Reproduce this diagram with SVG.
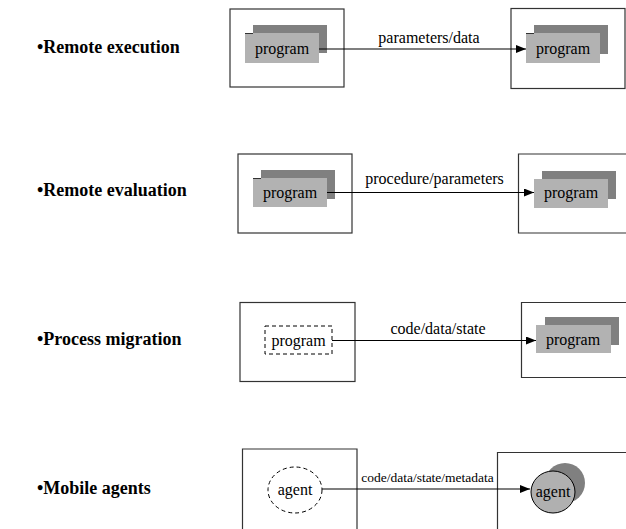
<svg xmlns="http://www.w3.org/2000/svg" width="626" height="529" viewBox="0 0 626 529">
<style>
text{font-family:"Liberation Serif","Times New Roman",serif;fill:#000}
.title{font-weight:bold;font-size:18px}
.lbl{font-size:16px}
.box{fill:#fff;stroke:#333;stroke-width:1.2}
.dark{fill:#808080}
.light{fill:#b2b2b2}
.edge{fill:none;stroke:#000;stroke-width:1.2}
.dash{fill:#fff;stroke:#000;stroke-width:1;stroke-dasharray:4,3}
</style>
<defs>
<marker id="ah" markerWidth="10" markerHeight="8" refX="10" refY="4" orient="auto" markerUnits="userSpaceOnUse">
<path d="M0,0 L10,4 L0,8 Z" fill="#000"/>
</marker>
</defs>
<rect width="626" height="529" fill="#fff"/>
<g id="titles">
<text class="title" x="37" y="53">•Remote execution</text>
<text class="title" x="37" y="196">•Remote evaluation</text>
<text class="title" x="37" y="345">•Process migration</text>
<text class="title" x="37" y="494">•Mobile agents</text>
</g>
<g id="r1-src">
<rect class="box" x="230" y="9" width="114" height="78"/>
<rect class="dark" x="253" y="25" width="74" height="28"/>
<rect class="light" x="245" y="33" width="74" height="30"/>
<line x1="245" y1="33.5" x2="253" y2="33.5" stroke="#333" stroke-width="1"/>
<text class="lbl" x="282" y="54" text-anchor="middle">program</text>
</g>
<g id="r1-dst">
<rect class="box" x="511" y="8.5" width="114" height="80"/>
<rect class="dark" x="534" y="25" width="74" height="29"/>
<rect class="light" x="526" y="33" width="74" height="30"/>
<line x1="526" y1="33.5" x2="534" y2="33.5" stroke="#333" stroke-width="1"/>
<text class="lbl" x="563" y="54" text-anchor="middle">program</text>
</g>
<g id="r2-src">
<rect class="box" x="238" y="154" width="114" height="79"/>
<rect class="dark" x="261" y="170" width="74" height="29"/>
<rect class="light" x="253" y="178" width="74" height="29"/>
<line x1="253" y1="178.5" x2="261" y2="178.5" stroke="#333" stroke-width="1"/>
<text class="lbl" x="290" y="198" text-anchor="middle">program</text>
</g>
<g id="r2-dst">
<path class="box" d="M628,154 H518.5 V233 H628"/>
<rect class="dark" x="542" y="171" width="74" height="28"/>
<rect class="light" x="534" y="179" width="74" height="29"/>
<text class="lbl" x="571" y="198" text-anchor="middle">program</text>
</g>
<g id="r3-src">
<rect class="box" x="240" y="302.5" width="115" height="79"/>
<rect class="dash" x="265" y="326" width="67" height="28"/>
<text class="lbl" x="298.5" y="346" text-anchor="middle">program</text>
</g>
<g id="r3-dst">
<path class="box" d="M628,302.5 H521.5 V377.5 H628"/>
<rect class="dark" x="545" y="317" width="74" height="28"/>
<rect class="light" x="536" y="325" width="75" height="28"/>
<text class="lbl" x="573" y="345" text-anchor="middle">program</text>
</g>
<g id="r4-src">
<path class="box" d="M242.5,531 V449 H357 V531"/>
<ellipse class="dash" cx="295" cy="490" rx="27" ry="23"/>
<text class="lbl" x="295" y="495" text-anchor="middle">agent</text>
</g>
<g id="r4-dst">
<path class="box" d="M628,452.5 H497.5 V531"/>
<circle class="dark" cx="565" cy="483" r="20"/>
<ellipse cx="553" cy="492" rx="22" ry="21" fill="#b0b0b0" stroke="#000" stroke-width="1"/>
<text class="lbl" x="553" y="497" text-anchor="middle">agent</text>
</g>
<g id="connectors">
<line class="edge" x1="319" y1="49" x2="526" y2="49" marker-end="url(#ah)"/>
<line class="edge" x1="327" y1="192.5" x2="534" y2="192.5" marker-end="url(#ah)"/>
<line class="edge" x1="332" y1="340.5" x2="536" y2="340.5" marker-end="url(#ah)"/>
<line class="edge" x1="322" y1="489" x2="530" y2="489" marker-end="url(#ah)"/>
<text class="lbl" x="429" y="43" text-anchor="middle">parameters/data</text>
<text class="lbl" x="434.5" y="184" text-anchor="middle">procedure/parameters</text>
<text class="lbl" x="438" y="334" text-anchor="middle">code/data/state</text>
<text class="lbl" x="427.5" y="482" text-anchor="middle" style="font-size:13.5px">code/data/state/metadata</text>
</g>
</svg>
